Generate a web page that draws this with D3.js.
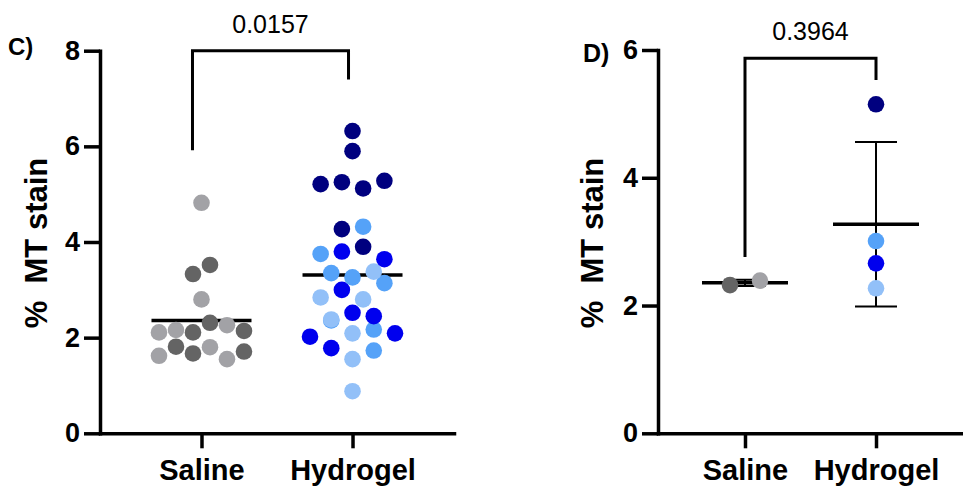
<!DOCTYPE html>
<html>
<head>
<meta charset="utf-8">
<script src="https://cdn.jsdelivr.net/npm/d3@7"></script>
<style>
body{margin:0;background:#fff;}
text{font-family:"Liberation Sans", Arial, Helvetica, sans-serif;fill:#000;}
</style>
</head>
<body>
<svg id="chart" width="963" height="493"></svg>
<script>
var categories = ["Saline", "Hydrogel"];

// panel C : every section, with the animal it came from
var salineValues = [1.62, 1.81, 1.67, 1.80, 1.55, 1.71, 2.11, 2.16, 2.11, 2.31, 2.26, 2.14, 2.80, 3.33, 3.52, 4.82];
var salineAnimal = ["S2", "S1", "S1", "S2", "S2", "S1", "S2", "S2", "S1", "S1", "S2", "S1", "S2", "S1", "S1", "S2"];
var hydrogelValues = [0.88, 1.78, 1.55, 1.73, 2.02, 2.36, 2.09, 2.17, 2.09, 2.38, 2.52, 2.45,
    2.84, 3.00, 2.80, 3.14, 3.35, 3.26, 3.38, 3.75, 3.80, 3.90, 3.64, 4.27, 4.32,
    5.21, 5.25, 5.12, 5.28, 5.90, 6.32];
var hydrogelAnimal = ["H4", "H2", "H4", "H3", "H2", "H3", "H4", "H3", "H2", "H4", "H2", "H2",
    "H4", "H2", "H4", "H3", "H3", "H3", "H4", "H3", "H2", "H1", "H2", "H1", "H3",
    "H1", "H1", "H1", "H1", "H1", "H1"];

// panel D : one value per animal
var salineMeans = [2.32, 2.39];
var salineMeanAnimal = ["S1", "S2"];
var hydrogelMeans = [5.15, 2.66, 3.01, 2.27];
var hydrogelMeanAnimal = ["H1", "H2", "H3", "H4"];

var ticksC = [0, 2, 4, 6, 8];
var ticksD = [0, 2, 4, 6];
var pValues = ["0.0157", "0.3964"];

var animalColor = {S1: "#646464", S2: "#a2a2a6", H1: "#00007f", H2: "#0000ee", H3: "#55a2f8", H4: "#92c0f8"};

var svg = d3.select("#chart");
var FONT = '"Liberation Sans", Arial, Helvetica, sans-serif';

//prism-like scatter : rows of close values spread around the column centre
function swarm(values, animals, cx, y, spacing, maxPerRow, spread){
    var idx = d3.range(values.length).sort(function(a, b){ return values[a] - values[b] || a - b; });
    var rows = [], row = null;
    idx.forEach(function(i){
        if(!row || y(values[row[0]]) - y(values[i]) > 17 || row.length >= maxPerRow){
            row = [];
            rows.push(row);
        }
        row.push(i);
    });
    var widest = d3.max(rows, function(r){ return r.length; });
    var step = widest > 1 ? Math.min(spacing, spread / (widest - 1)) : spacing;
    var out = [];
    rows.forEach(function(r){
        r.sort(function(a, b){ return a - b; });
        r.forEach(function(i, k){
            out.push({v: values[i], a: animals[i], x: cx + (k - (r.length - 1) / 2) * step, y: y(values[i])});
        });
    });
    return out;
}

function drawPanel(cfg){
    var g = svg.append("g");
    var y = d3.scaleLinear().domain([0, cfg.yMax]).range([433.3, cfg.yTop]);
    var x = d3.scalePoint().domain(categories).range([cfg.left, cfg.right]).padding(cfg.pad);

    //y axis
    var ya = g.append("g")
        .attr("transform", "translate(" + cfg.left + ",0)")
        .call(d3.axisLeft(y).tickValues(cfg.ticks).tickFormat(d3.format("d"))
            .tickSize(16).tickSizeOuter(0).tickPadding(4));
    //x axis
    var xa = g.append("g")
        .attr("transform", "translate(0,433.3)")
        .call(d3.axisBottom(x).tickSize(15).tickSizeOuter(0));

    [ya, xa].forEach(function(a){
        a.attr("font-family", FONT);
        a.select(".domain").attr("stroke", "#000").attr("stroke-width", 3.5).attr("stroke-linecap", "square");
        a.selectAll(".tick line").attr("stroke", "#000").attr("stroke-width", 3.5);
    });
    ya.selectAll(".tick text").attr("font-size", 27).attr("font-weight", "bold").attr("fill", "#000");
    xa.selectAll(".tick text").attr("font-size", 29).attr("font-weight", "bold").attr("fill", "#000")
        .attr("y", 46.7).attr("dy", null);

    //axis title
    g.append("text")
        .attr("transform", "translate(" + cfg.titleX + ",243) rotate(-90)")
        .attr("text-anchor", "middle")
        .attr("font-size", 31)
        .attr("font-weight", "bold")
        .style("white-space", "pre")
        .text("%  MT stain");

    //panel letter
    g.append("text")
        .attr("x", cfg.letterX).attr("y", cfg.letterY)
        .attr("font-size", cfg.letterSize)
        .attr("font-weight", "bold")
        .text(cfg.letter);

    //comparison bracket
    var x0 = x(categories[0]) + cfg.legShift[0], x1 = x(categories[1]) + cfg.legShift[1];
    g.append("path")
        .attr("d", d3.line()([[x0, y(cfg.bracket[0])], [x0, y(cfg.bracket[1])], [x1, y(cfg.bracket[1])], [x1, y(cfg.bracket[2])]]))
        .attr("fill", "none").attr("stroke", "#000").attr("stroke-width", 3);
    g.append("text")
        .attr("x", (x0 + x1) / 2).attr("y", y(cfg.bracket[1]) - 18)
        .attr("text-anchor", "middle")
        .attr("font-size", 25)
        .text(cfg.p);

    var groups = [
        {cat: categories[0], values: cfg.values[0], animals: cfg.animals[0], maxPerRow: cfg.maxPerRow[0]},
        {cat: categories[1], values: cfg.values[1], animals: cfg.animals[1], maxPerRow: cfg.maxPerRow[1]}
    ];

    groups.forEach(function(d){
        var cx = x(d.cat);
        var m = d3.mean(d.values);
        if(cfg.errorBars){
            var sd = d3.deviation(d.values);
            g.append("path")
                .attr("d", "M" + cx + "," + y(m + sd) + "V" + y(m - sd) +
                    "M" + (cx - 21) + "," + y(m + sd) + "H" + (cx + 21) +
                    "M" + (cx - 21) + "," + y(m - sd) + "H" + (cx + 21))
                .attr("fill", "none").attr("stroke", "#000").attr("stroke-width", 2);
        }
        g.append("line")
            .attr("x1", cx - cfg.meanHalf).attr("x2", cx + cfg.meanHalf)
            .attr("y1", y(m)).attr("y2", y(m))
            .attr("stroke", "#000").attr("stroke-width", 3.5);

        var pts = swarm(d.values, d.animals, cx, y, cfg.spacing, d.maxPerRow, 85);
        g.selectAll(null)
            .data(pts)
            .enter()
            .append("circle")
            .attr("cx", function(p){ return p.x; })
            .attr("cy", function(p){ return p.y; })
            .attr("r", 8.3)
            .attr("fill", function(p){ return animalColor[p.a]; });
    });
}

drawPanel({
    left: 100, right: 454, pad: 0.672, yMax: 8, yTop: 50.7, ticks: ticksC,
    titleX: 47, letter: "C)", letterX: 8, letterY: 55, letterSize: 24,
    legShift: [-9, -4], bracket: [5.92, 8, 7.4], p: pValues[0],
    values: [salineValues, hydrogelValues], animals: [salineAnimal, hydrogelAnimal],
    maxPerRow: [6, 5], spacing: 21.3, meanHalf: 50, errorBars: false
});

drawPanel({
    left: 658, right: 963, pad: 0.664, yMax: 6, yTop: 50, ticks: ticksD,
    titleX: 603, letter: "D)", letterX: 583, letterY: 62, letterSize: 25,
    legShift: [0, 0], bracket: [2.76, 5.87, 5.53], p: pValues[1],
    values: [salineMeans, hydrogelMeans], animals: [salineMeanAnimal, hydrogelMeanAnimal],
    maxPerRow: [6, 6], spacing: 30, meanHalf: 43, errorBars: true
});
</script>
</body>
</html>
